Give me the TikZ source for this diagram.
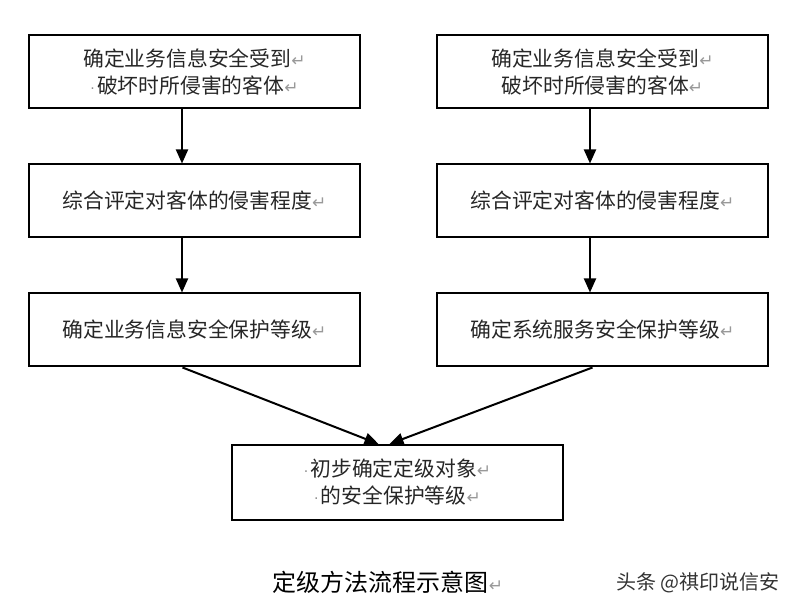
\documentclass[tikz,border=0pt]{standalone}
\usepackage{fontspec}
\usepackage{tikz}
\usetikzlibrary{shapes}
\usetikzlibrary{arrows.meta,positioning}
\newfontfamily\cjk{Noto Sans CJK SC}
\newfontfamily\symf{DejaVu Sans}
\newcommand{\parmark}{{\symf\fontsize{8.5}{8.5}\selectfont\color{black!40}↵}}
\newcommand{\mdot}{{\symf\fontsize{7}{7}\selectfont\color{black!45}·\,}}
\tikzstyle{blk}=[draw, line width=1pt, minimum width=165.5pt, minimum height=36.5pt, inner sep=0pt, align=center, text=black!85, font=\cjk\fontsize{10.4}{13.5}\selectfont]
\tikzstyle{captxt}=[inner sep=0pt, font=\cjk\fontsize{12}{14}\selectfont]

\begin{document}
\begin{tikzpicture}
 [-{Triangle[length=7pt,width=6pt]}, line width=1pt, x=0.5pt, y=-0.5pt, node distance=64.5pt]
 \useasboundingbox (0,0) rectangle (800,614);
 % left column
 \node[blk] (L1) at (194.5,72) {确定业务信息安全受到\parmark\\\mdot 破坏时所侵害的客体\parmark};
 \node[blk] (L2) [below of=L1] {综合评定对客体的侵害程度\parmark};
 \node[blk] (L3) [below of=L2] {确定业务信息安全保护等级\parmark};
 % right column
 \node[blk] (R1) at (602.5,72) {确定业务信息安全受到\parmark\\破坏时所侵害的客体\parmark};
 \node[blk] (R2) [below of=R1] {综合评定对客体的侵害程度\parmark};
 \node[blk] (R3) [below of=R2] {确定系统服务安全保护等级\parmark};
 % result
 \node[blk, minimum height=37.5pt] (B) at (397.5,482.5) {\mdot 初步确定定级对象\parmark\\\mdot 的安全保护等级\parmark};
 \node[captxt] (T) at (388,582) {定级方法流程示意图\parmark};
 \node[captxt, font=\cjk\fontsize{10}{12}\selectfont, text=black!80] (W) at (698,583) {头条 @祺印说信安};
 \path[]
   ([xshift=-6.25pt]L1.south) edge node {} ([xshift=-6.25pt]L2.north)
   ([xshift=-6.25pt]L2.south) edge node {} ([xshift=-6.25pt]L3.north)
   ([xshift=-6.25pt]R1.south) edge node {} ([xshift=-6.25pt]R2.north)
   ([xshift=-6.25pt]R2.south) edge node {} ([xshift=-6.25pt]R3.north)
   ([xshift=-6pt]L3.south) edge node {} ([xshift=-9.5pt]B.north)
   ([xshift=-5pt]R3.south) edge node {} ([xshift=-4pt]B.north);
\end{tikzpicture}
\end{document}
